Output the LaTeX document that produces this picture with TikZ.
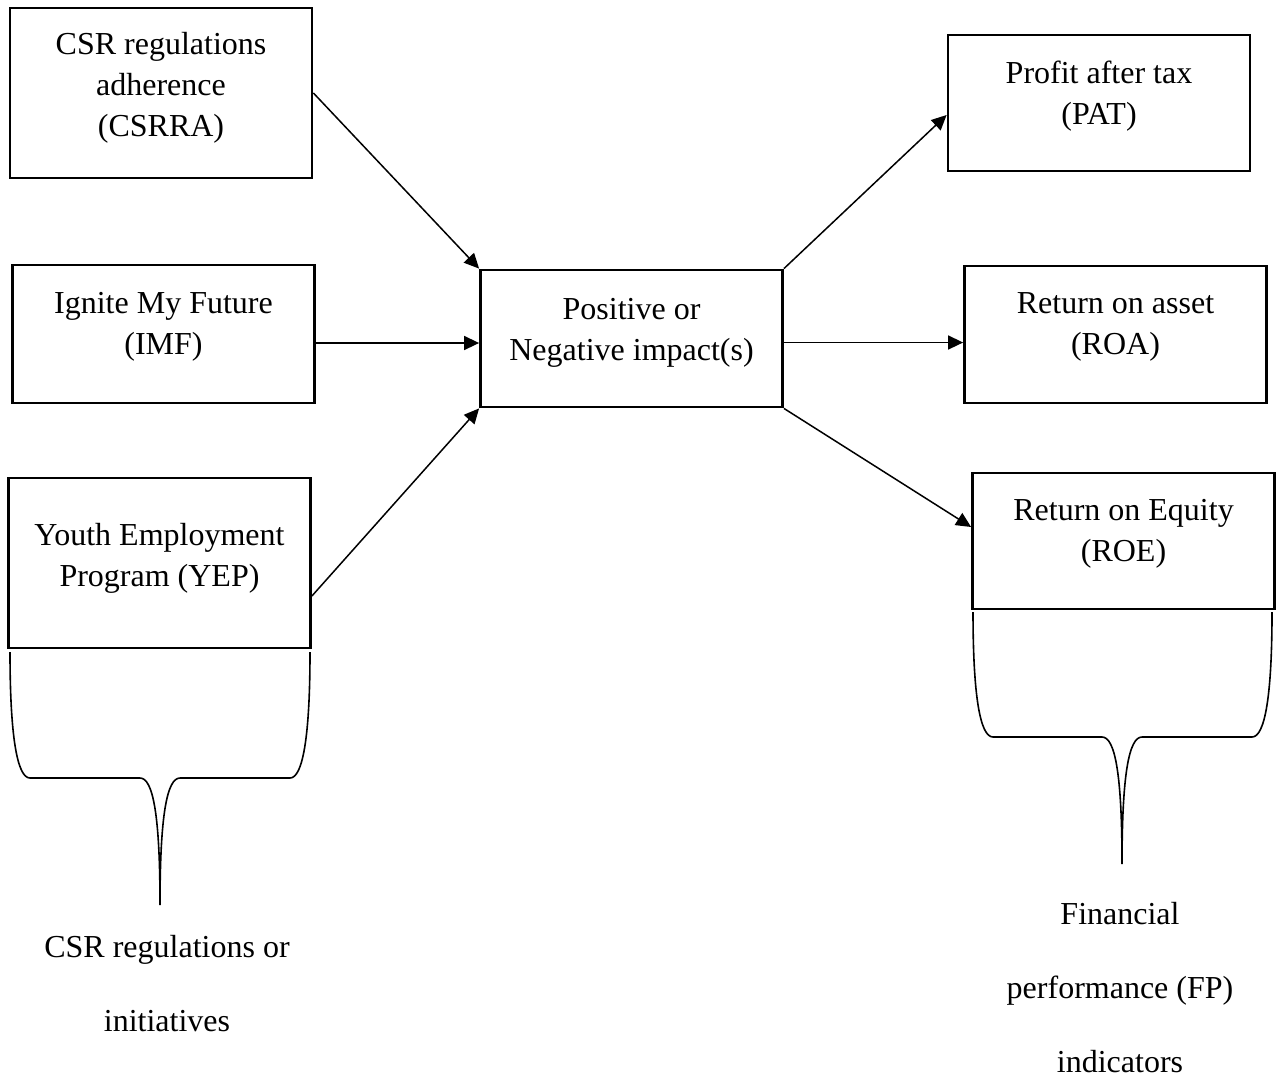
\documentclass[tikz,border=0pt]{standalone}
\usepackage{fontspec}
\setmainfont{Liberation Serif}
\usetikzlibrary{arrows.meta,calc}

\tikzset{
  box/.style={draw, line width=1.4pt, rectangle, inner sep=0pt, minimum width=151pt},
  boxtext/.style={align=center, inner sep=0pt, font=\fontsize{16pt}{20.5pt}\selectfont},
  grouptext/.style={align=center, inner sep=0pt, font=\fontsize{16pt}{37pt}\selectfont},
  arr/.style={line width=0.75pt, -{Triangle[length=7.5pt,width=7pt]}},
  brace/.style={line width=0.8pt},
}

\begin{document}
\begin{tikzpicture}[x=0.5pt, y=-0.5pt]
  \useasboundingbox (0,0) rectangle (1277,1077);

  % input boxes
  \node[box, minimum height=85pt]  (csrra) at (161,93)    {};
  \node[box, minimum height=69pt]  (imf)   at (163.5,334) {};
  \node[box, minimum height=85pt]  (yep)   at (159.5,563) {};
  % central box
  \node[box, minimum height=68.5pt] (ctr)  at (631.5,338.5) {};
  % output boxes
  \node[box, minimum height=68pt]  (pat)   at (1099,103)    {};
  \node[box, minimum height=68.5pt] (roa)  at (1115.5,334.5) {};
  \node[box, minimum height=68pt]  (roe)   at (1123.5,541)  {};

  % box captions
  \node[boxtext] (csrra-t) at (161,88)    {CSR regulations\\adherence\\(CSRRA)};
  \node[boxtext] (imf-t)   at (163.5,326.5) {Ignite My Future\\(IMF)};
  \node[boxtext] (yep-t)   at (159.5,558) {Youth Employment\\Program (YEP)};
  \node[boxtext] (ctr-t)   at (631.5,332.5) {Positive or\\Negative impact(s)};
  \node[boxtext] (pat-t)   at (1099,96.5)  {Profit after tax\\(PAT)};
  \node[boxtext] (roa-t)   at (1115.5,327) {Return on asset\\(ROA)};
  \node[boxtext] (roe-t)   at (1123.5,534) {Return on Equity\\(ROE)};

  % connector end points
  \coordinate (imf-out) at ($(imf.east)+(0,9)$);
  \coordinate (yep-out) at ($(yep.east)+(0,33)$);
  \coordinate (ctr-out) at ($(ctr.east)+(0,4)$);
  \coordinate (pat-in)  at ($(pat.west)+(0,12)$);
  \coordinate (roe-in)  at ($(roe.west)+(0,-14)$);

  % connectors
  \draw[arr] (csrra.east) -- (ctr.north west);
  \draw[arr] (imf-out) -- (imf-out -| ctr.west);
  \draw[arr] (yep-out) -- (ctr.south west);
  \draw[arr] (ctr.north east) -- (pat-in);
  \draw[arr] (ctr-out) -- (ctr-out -| roa.west);
  \draw[arr] (ctr.south east) -- (roe-in);

  % brace under the input boxes
  \coordinate (lb-tip) at (160,905);
  \draw[brace] (10,652) .. controls (10,735) and (17,778) .. (30,778)
    -- (140,778) .. controls (153,778) and (160,815) .. (lb-tip)
    .. controls (160,815) and (167,778) .. (180,778)
    -- (290,778) .. controls (303,778) and (310,735) .. (310,652);

  % brace under the output boxes
  \coordinate (rb-tip) at (1122,864);
  \draw[brace] (973,612) .. controls (973,695) and (980,737) .. (993,737)
    -- (1102,737) .. controls (1115,737) and (1122,774) .. (rb-tip)
    .. controls (1122,774) and (1129,737) .. (1142,737)
    -- (1252,737) .. controls (1265,737) and (1272,695) .. (1272,612);

  % group captions
  \node[grouptext] (csr-group) at (167,983.5) {CSR regulations or\\initiatives};
  \node[grouptext] (fp-group)  at (1120,988)  {Financial\\performance (FP)\\indicators};
\end{tikzpicture}
\end{document}
